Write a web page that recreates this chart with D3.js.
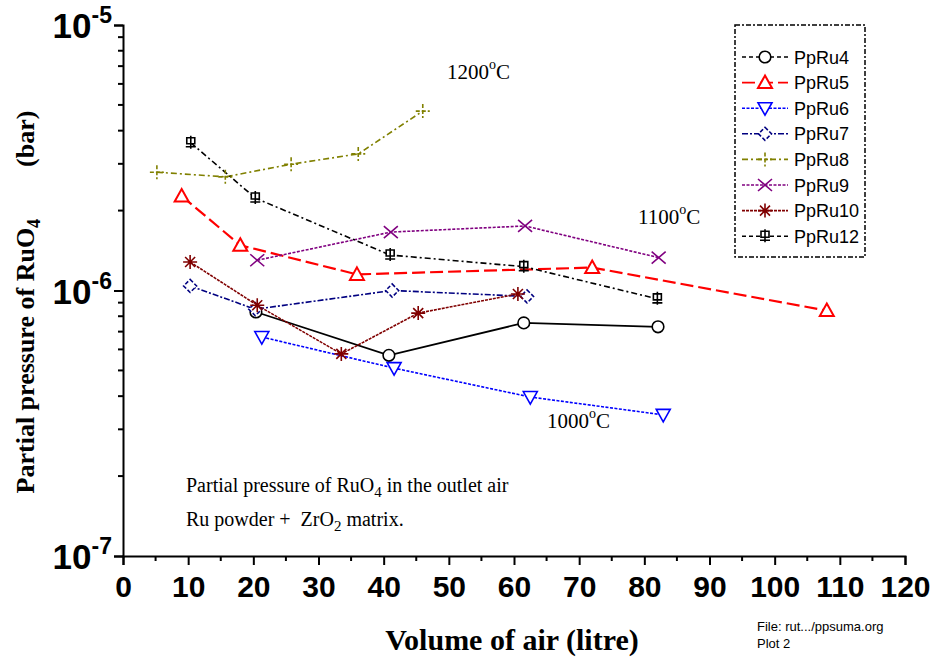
<!DOCTYPE html>
<html>
<head>
<meta charset="utf-8">
<script src="https://cdn.jsdelivr.net/npm/d3@7"></script>
<style>
  body { margin: 0; background: #fff; }
  svg { display: block; }
  .tick text { font-family: Arial, "Liberation Sans", sans-serif; font-weight: bold; }
</style>
</head>
<body>
<svg width="931" height="659"></svg>
<script>
// data
var seriesNames = ["PpRu4", "PpRu5", "PpRu6", "PpRu7", "PpRu8", "PpRu9", "PpRu10", "PpRu12"];

var ppRu4x = [20.4, 40.8, 61.5, 82.1];
var ppRu4y = [8.3e-7, 5.7e-7, 7.55e-7, 7.3e-7];

var ppRu5x = [9.0, 18.0, 35.9, 72.0, 108.0];
var ppRu5y = [2.27e-6, 1.48e-6, 1.15e-6, 1.22e-6, 8.4e-7];

var ppRu6x = [21.3, 41.6, 62.5, 82.9];
var ppRu6y = [6.68e-7, 5.1e-7, 3.97e-7, 3.4e-7];

var ppRu7x = [10.3, 20.3, 41.3, 62.0];
var ppRu7y = [1.04e-6, 8.5e-7, 1.0e-6, 9.5e-7];

var ppRu8x = [5.2, 15.7, 25.8, 36.1, 46.0];
var ppRu8y = [2.79e-6, 2.68e-6, 2.99e-6, 3.27e-6, 4.74e-6];

var ppRu9x = [20.6, 41.1, 61.7, 82.2];
var ppRu9y = [1.3e-6, 1.66e-6, 1.75e-6, 1.33e-6];

var ppRu10x = [10.3, 20.6, 33.5, 45.3, 60.6];
var ppRu10y = [1.28e-6, 8.8e-7, 5.77e-7, 8.22e-7, 9.7e-7];

var ppRu12x = [10.4, 20.3, 41.0, 61.5, 82.0];
var ppRu12y = [3.6e-6, 2.23e-6, 1.36e-6, 1.23e-6, 9.3e-7];

var xTicks = [0, 10, 20, 30, 40, 50, 60, 70, 80, 90, 100, 110, 120];
var yTickExps = [-5, -6, -7];

var allX = [ppRu4x, ppRu5x, ppRu6x, ppRu7x, ppRu8x, ppRu9x, ppRu10x, ppRu12x];
var allY = [ppRu4y, ppRu5y, ppRu6y, ppRu7y, ppRu8y, ppRu9y, ppRu10y, ppRu12y];

// styling per series
var colors = ["#000000", "#ff0000", "#0000ff", "#000080", "#808000", "#800080", "#800000", "#000000"];
var dashes = [null, "13,5", "3,1.5", "6,2,2,2", "6,3,2,3", "3,1.5", "3,1", "6,3,2,3"];
var legendDashes = ["4,3", "13,5", "3,1.5", "6,2,2,2", "6,3,2,3", "3,1.5", "3,1", "4,3"];
var markers = ["circle", "up", "down", "diamond", "plus", "cross", "star", "box"];

var margin = { top: 25, left: 123, right: 26, bottom: 103 };
var width = 931 - margin.left - margin.right;
var height = 659 - margin.top - margin.bottom;

var svg = d3.select("svg");
var graph = svg.append("g")
  .attr("transform", "translate(" + margin.left + "," + margin.top + ")");

var xscale = d3.scaleLinear().domain([0, 120]).range([0, width]);
var yscale = d3.scaleLog().domain([1e-7, 1e-5]).range([height, 0]);

// x axis, major and minor ticks
var xaxis = d3.axisBottom(xscale).tickValues(xTicks).tickSize(9).tickFormat(d3.format("d"));
var gx = graph.append("g")
  .attr("transform", "translate(0," + height + ")")
  .call(xaxis);
gx.selectAll("text").attr("font-size", 30).attr("dy", "0.98em").attr("fill", "#000");
gx.append("g").selectAll("line")
  .data(d3.range(5, 120, 10))
  .enter().append("line")
  .attr("x1", function(d) { return xscale(d); })
  .attr("x2", function(d) { return xscale(d); })
  .attr("y1", 0).attr("y2", 5)
  .attr("stroke", "#000").attr("stroke-width", 2);

// y axis
var yMinor = [];
[1e-7, 1e-6].forEach(function(dec) {
  for (var k = 2; k <= 9; k++) yMinor.push(dec * k);
});
var yaxis = d3.axisLeft(yscale).tickValues(yTickExps.map(function(e) { return Math.pow(10, e); }))
  .tickSize(9).tickFormat("");
var gy = graph.append("g").call(yaxis);
gy.append("g").selectAll("line")
  .data(yMinor)
  .enter().append("line")
  .attr("y1", function(d) { return yscale(d); })
  .attr("y2", function(d) { return yscale(d); })
  .attr("x1", 0).attr("x2", -5)
  .attr("stroke", "#000").attr("stroke-width", 2);
[gx, gy].forEach(function(g) {
  g.select(".domain").attr("stroke-width", 2);
  g.selectAll(".tick line").attr("stroke-width", 2);
});

yTickExps.forEach(function(e) {
  var t = graph.append("text")
    .attr("x", -11)
    .attr("y", yscale(Math.pow(10, e)) + 13)
    .attr("text-anchor", "end")
    .attr("font-family", "Arial, 'Liberation Sans', sans-serif")
    .attr("font-weight", "bold")
    .attr("font-size", 35);
  t.append("tspan").text("10");
  t.append("tspan").attr("font-size", 23).attr("dy", -15).text(String(e));
});

// axis titles
svg.append("text")
  .attr("x", 512).attr("y", 650)
  .attr("text-anchor", "middle")
  .attr("font-family", "'Liberation Serif', 'Times New Roman', serif")
  .attr("font-weight", "bold")
  .attr("font-size", 30)
  .text("Volume of air (litre)");

var ytitle = svg.append("text")
  .attr("transform", "translate(34,302) rotate(-90)")
  .attr("text-anchor", "middle")
  .attr("font-family", "'Liberation Serif', 'Times New Roman', serif")
  .attr("font-weight", "bold")
  .attr("font-size", 26);
ytitle.append("tspan").text("Partial pressure of RuO");
ytitle.append("tspan").attr("font-size", 18).attr("dy", 6).text("4");
ytitle.append("tspan").attr("dy", -6).text("\u00a0\u00a0\u00a0\u00a0\u00a0\u00a0\u00a0\u00a0(bar)");

// marker drawing
function drawMarker(g, type, color, x, y) {
  var s = 5;
  var m = g.append("path")
    .attr("fill", type == "up" || type == "down" || type == "diamond" || type == "box" ? "#fff" : "none")
    .attr("stroke", color)
    .attr("stroke-width", 1.6);
  var p;
  if (type == "circle") {
    m.remove();
    g.append("circle").attr("cx", x).attr("cy", y).attr("r", 5.8)
      .attr("fill", "#fff").attr("stroke", color).attr("stroke-width", 1.6);
    return;
  } else if (type == "up") {
    p = "M" + x + "," + (y - 7) + "L" + (x + 7) + "," + (y + 5.5) + "L" + (x - 7) + "," + (y + 5.5) + "Z";
    m.attr("stroke-width", 2);
  } else if (type == "down") {
    p = "M" + x + "," + (y + 7) + "L" + (x + 7) + "," + (y - 5.5) + "L" + (x - 7) + "," + (y - 5.5) + "Z";
  } else if (type == "diamond") {
    p = "M" + x + "," + (y - 6.5) + "L" + (x + 6.5) + "," + y + "L" + x + "," + (y + 6.5) + "L" + (x - 6.5) + "," + y + "Z";
    m.attr("stroke-dasharray", "4,2");
  } else if (type == "plus") {
    p = "M" + (x - 7) + "," + y + "L" + (x + 7) + "," + y + "M" + x + "," + (y - 7) + "L" + x + "," + (y + 7);
    m.attr("stroke-dasharray", "4,2");
  } else if (type == "cross") {
    p = "M" + (x - 7) + "," + (y - 6) + "L" + (x + 7) + "," + (y + 6) + "M" + (x + 7) + "," + (y - 6) + "L" + (x - 7) + "," + (y + 6);
  } else if (type == "star") {
    p = "M" + (x - 7) + "," + y + "L" + (x + 7) + "," + y + "M" + x + "," + (y - 7) + "L" + x + "," + (y + 7)
      + "M" + (x - s) + "," + (y - s) + "L" + (x + s) + "," + (y + s) + "M" + (x + s) + "," + (y - s) + "L" + (x - s) + "," + (y + s);
  } else if (type == "box") {
    p = "M" + (x - 4) + "," + (y - 5) + "L" + (x + 4) + "," + (y - 5) + "L" + (x + 4) + "," + (y + 1) + "L" + (x - 4) + "," + (y + 1) + "Z"
      + "M" + x + "," + (y - 7) + "L" + x + "," + (y + 6) + "M" + (x - 5) + "," + (y + 4) + "L" + (x + 5) + "," + (y + 4);
  }
  m.attr("d", p);
}

// lines and markers
var line = d3.line()
  .x(function(d) { return xscale(d[0]); })
  .y(function(d) { return yscale(d[1]); });

seriesNames.forEach(function(name, i) {
  var pts = allX[i].map(function(x, j) { return [x, allY[i][j]]; });
  var path = graph.append("path")
    .attr("d", line(pts))
    .attr("fill", "none")
    .attr("stroke", colors[i])
    .attr("stroke-width", i == 1 ? 2.2 : (i == 0 ? 1.8 : 1.6));
  if (dashes[i]) path.attr("stroke-dasharray", dashes[i]);
});
seriesNames.forEach(function(name, i) {
  var g = graph.append("g");
  allX[i].forEach(function(x, j) {
    drawMarker(g, markers[i], colors[i], xscale(x), yscale(allY[i][j]));
  });
});

// legend
var legend = svg.append("g").attr("transform", "translate(735,25)");
legend.append("rect")
  .attr("x", 0).attr("y", 0).attr("width", 130).attr("height", 232)
  .attr("fill", "#fff").attr("stroke", "#000").attr("stroke-width", 1.5)
  .attr("stroke-dasharray", "5,2,2,2");
seriesNames.forEach(function(name, i) {
  var y = 32 + i * 25.6;
  var row = legend.append("g");
  row.append("line")
    .attr("x1", 7).attr("x2", 53).attr("y1", y).attr("y2", y)
    .attr("stroke", colors[i]).attr("stroke-width", 1.6)
    .attr("stroke-dasharray", legendDashes[i]);
  drawMarker(row, markers[i], colors[i], 30, y);
  row.append("text")
    .attr("x", 59).attr("y", y + 6.5)
    .attr("font-family", "Arial, 'Liberation Sans', sans-serif")
    .attr("font-size", 18)
    .text(name);
});

// annotations
var serif = "'Liberation Serif', 'Times New Roman', serif";
function tempLabel(x, y, t) {
  var tx = svg.append("text").attr("x", x).attr("y", y)
    .attr("font-family", serif).attr("font-size", 21);
  tx.append("tspan").text(t);
  tx.append("tspan").attr("font-size", 14).attr("dy", -10).text("o");
  tx.append("tspan").attr("dy", 10).text("C");
}
tempLabel(447, 79, "1200");
tempLabel(638, 224, "1100");
tempLabel(547, 428, "1000");

var n1 = svg.append("text").attr("x", 186).attr("y", 492)
  .attr("font-family", serif).attr("font-size", 20);
n1.append("tspan").text("Partial pressure of RuO");
n1.append("tspan").attr("font-size", 15).attr("dy", 5).text("4");
n1.append("tspan").attr("dy", -5).text(" in the outlet air");

var n2 = svg.append("text").attr("x", 186).attr("y", 526)
  .attr("font-family", serif).attr("font-size", 20);
n2.append("tspan").text("Ru powder +\u00a0 ZrO");
n2.append("tspan").attr("font-size", 15).attr("dy", 5).text("2");
n2.append("tspan").attr("dy", -5).text(" matrix.");

svg.append("text").attr("x", 757).attr("y", 631)
  .attr("font-family", "Arial, 'Liberation Sans', sans-serif").attr("font-size", 13)
  .text("File: rut.../ppsuma.org");
svg.append("text").attr("x", 757).attr("y", 648)
  .attr("font-family", "Arial, 'Liberation Sans', sans-serif").attr("font-size", 13)
  .text("Plot  2");
</script>
</body>
</html>
